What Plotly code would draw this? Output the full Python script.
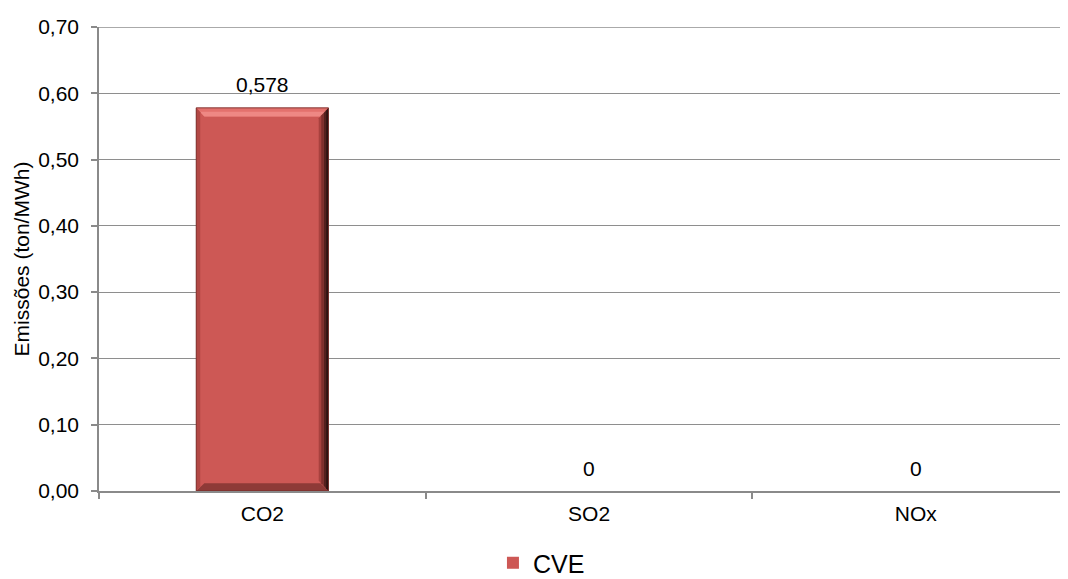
import plotly.graph_objects as go

categories = ["CO2", "SO2", "NOx"]
values = [0.578, 0.0, 0.0]
series_name = "CVE"
y_ticks = [0.0, 0.1, 0.2, 0.3, 0.4, 0.5, 0.6, 0.7]
y_title = "Emissões (ton/MWh)"

FONT = "Liberation Sans, Arial, sans-serif"
FACE = "#CD5855"
GRID = "#8E8E8E"
BAR_FRAC = 0.405

labels = [("%g" % v).replace(".", ",") for v in values]

fig = go.Figure()
fig.add_trace(go.Bar(
    x=categories, y=values, name=series_name,
    marker=dict(color=FACE, line=dict(width=0)),
    showlegend=True,
))

annotations = [
    dict(x=c, y=v, xref="x", yref="y", text=t, showarrow=False,
         yanchor="middle", yshift=23,
         font=dict(family=FONT, size=21, color="#000000"))
    for c, v, t in zip(categories, values, labels)
]

# bevel shading on the bars (in data coordinates)
shapes = []
dx = 0.025   # horizontal bevel depth in category units
dy = 0.013   # vertical bevel depth in value units
for i, v in enumerate(values):
    if v <= 0:
        continue
    x0 = i - BAR_FRAC / 2
    x1 = i + BAR_FRAC / 2
    # top (light, two tones)
    shapes.append(dict(type="path", xref="x", yref="y", layer="above",
                       path=f"M{x0},{v} L{x1},{v} L{x1-dx},{v-dy} L{x0+dx},{v-dy} Z",
                       fillcolor="#E3716D", line=dict(width=0)))
    shapes.append(dict(type="path", xref="x", yref="y", layer="above",
                       path=(f"M{x0+dx*0.45},{v-dy*0.45} L{x1-dx*0.45},{v-dy*0.45} "
                             f"L{x1-dx},{v-dy} L{x0+dx},{v-dy} Z"),
                       fillcolor="#EE8884", line=dict(width=0)))
    # bottom (dark)
    shapes.append(dict(type="path", xref="x", yref="y", layer="above",
                       path=f"M{x0},0 L{x1},0 L{x1-dx},{dy*0.9} L{x0+dx},{dy*0.9} Z",
                       fillcolor="#8E3A37", line=dict(width=0)))
    # left (slightly darker)
    shapes.append(dict(type="path", xref="x", yref="y", layer="above",
                       path=f"M{x0},0 L{x0},{v} L{x0+dx*0.5},{v-dy*0.5} L{x0+dx*0.5},{dy*0.5} Z",
                       fillcolor="#B24845", line=dict(width=0)))
    # right gradient (dark strips)
    cols = ["#A8413E", "#7E2E2C", "#55201E", "#2E1210"]
    n = len(cols)
    for k, c in enumerate(cols):
        a = x1 - dx * (n - k) / n * 1.2
        b = x1 - dx * (n - k - 1) / n * 1.2
        fa = (n - k) / n * 1.2
        fb = (n - k - 1) / n * 1.2
        shapes.append(dict(type="path", xref="x", yref="y", layer="above",
                           path=(f"M{a},{dy*fa} L{b},{dy*fb} L{b},{v-dy*fb} L{a},{v-dy*fa} Z"),
                           fillcolor=c, line=dict(width=0)))
    # outline
    shapes.append(dict(type="rect", xref="x", yref="y", layer="above",
                       x0=x0, x1=x1, y0=0, y1=v,
                       fillcolor="rgba(0,0,0,0)", line=dict(color="#6E2826", width=0.8)))

# top gridline at the last tick
shapes.append(dict(type="line", xref="paper", yref="y", layer="below",
                   x0=0, x1=1, y0=y_ticks[-1], y1=y_ticks[-1],
                   line=dict(color=GRID, width=1.3)))

fig.update_layout(
    width=1060, height=571,
    margin=dict(l=91, r=0, t=19, b=88),
    paper_bgcolor="white", plot_bgcolor="white",
    separators=",.",
    bargap=1 - BAR_FRAC,
    font=dict(family=FONT, size=21, color="#000000"),
    shapes=shapes,
    annotations=annotations,
    legend=dict(orientation="h", xref="container", yref="container",
                x=0.4575, xanchor="left", y=0.028, yanchor="middle",
                font=dict(family=FONT, size=25, color="#000000"),
                itemwidth=30),
    xaxis=dict(
        type="category", range=[-0.5, 2.466],
        showline=True, linecolor="#8A8A8A", linewidth=1.5,
        ticks="outside", tickson="boundaries", ticklen=6,
        tickcolor="#8A8A8A", tickwidth=1.5,
        showgrid=False, zeroline=False, ticklabelstandoff=3,
        tickfont=dict(family=FONT, size=21, color="#000000"),
    ),
    yaxis=dict(
        range=[0, 0.70], tickvals=y_ticks, tickformat=".2f",
        showline=True, linecolor="#8A8A8A", linewidth=1.5,
        ticks="outside", ticklen=6, tickcolor="#8A8A8A", tickwidth=1.5,
        showgrid=True, gridcolor=GRID, gridwidth=1.3,
        zeroline=False, ticklabelstandoff=8,
        tickfont=dict(family=FONT, size=21, color="#000000"),
        title=dict(text=y_title, standoff=3,
                   font=dict(family=FONT, size=21, color="#000000")),
    ),
)

fig.write_html("out.html")
